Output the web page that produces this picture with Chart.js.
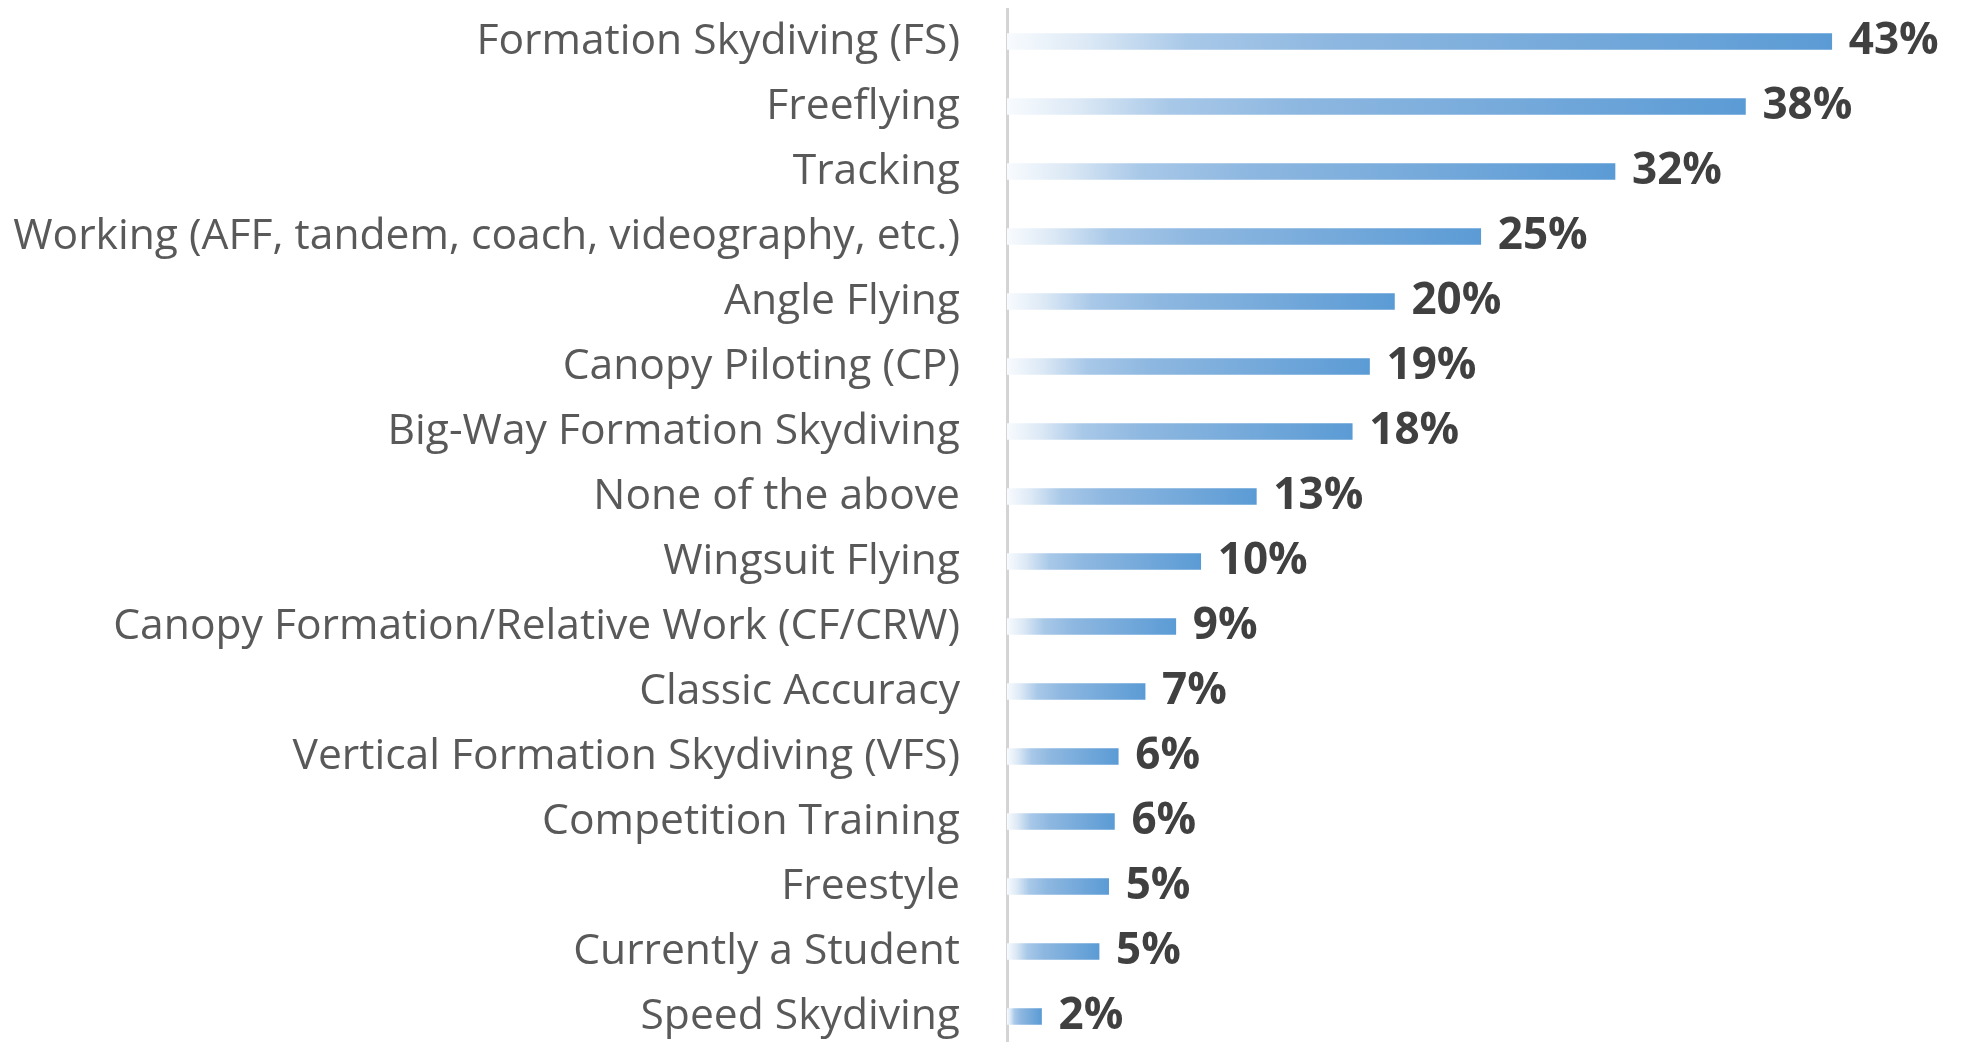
<!DOCTYPE html>
<html>
<head>
<meta charset="utf-8">
<script src="https://cdn.jsdelivr.net/npm/chart.js@4.4.1/dist/chart.umd.min.js"></script>
<style>
	html, body { margin: 0; padding: 0; background: #fff; overflow: hidden; }
	#wrap { position: relative; width: 1966px; height: 1050px; }
</style>
</head>
<body>
<div id="wrap"><canvas id="myChart"></canvas></div>
<script>
const categorias = [
	"Formation Skydiving (FS)",
	"Freeflying",
	"Tracking",
	"Working (AFF, tandem, coach, videography, etc.)",
	"Angle Flying",
	"Canopy Piloting (CP)",
	"Big-Way Formation Skydiving",
	"None of the above",
	"Wingsuit Flying",
	"Canopy Formation/Relative Work (CF/CRW)",
	"Classic Accuracy",
	"Vertical Formation Skydiving (VFS)",
	"Competition Training",
	"Freestyle",
	"Currently a Student",
	"Speed Skydiving"
];
const valores = [43.0, 38.5, 31.7, 24.7, 20.2, 18.9, 18.0, 13.0, 10.1, 8.8, 7.2, 5.8, 5.6, 5.3, 4.8, 1.8];
const rotulos = ["43%", "38%", "32%", "25%", "20%", "19%", "18%", "13%", "10%", "9%", "7%", "6%", "6%", "5%", "5%", "2%"];

// gradiente de cada barra, do claro (esquerda) ao azul (direita)
function corBarra(ctx) {
	const chart = ctx.chart;
	const x = chart.scales.x;
	if (!x || !chart.chartArea || ctx.raw === undefined) return '#5b9bd5';
	const x0 = x.getPixelForValue(0);
	const x1 = x.getPixelForValue(ctx.raw);
	const g = chart.ctx.createLinearGradient(x0, 0, x1, 0);
	g.addColorStop(0, '#f8fbfe');
	g.addColorStop(0.1, '#dbe8f5');
	g.addColorStop(0.22, '#a8c8e8');
	g.addColorStop(0.4, '#8db7e0');
	g.addColorStop(1, '#5b9bd5');
	return g;
}

const rotulosPlugin = {
	id: 'rotulos',
	afterDatasetsDraw(chart) {
		const c = chart.ctx;
		const meta = chart.getDatasetMeta(0);
		c.save();
		c.font = 'bold 44px "Open Sans"';
		c.fillStyle = '#404040';
		c.textAlign = 'left';
		c.textBaseline = 'middle';
		meta.data.forEach(function(bar, i) {
			c.fillText(rotulos[i], bar.x + 17, bar.y);
		});
		c.restore();
	}
};

window.addEventListener('load', function() {
	new Chart("myChart", {
		type: "bar",
		data: {
			labels: categorias,
			datasets: [{
				data: valores,
				backgroundColor: corBarra,
				barThickness: 16,
				borderWidth: 0
			}]
		},
		options: {
			indexAxis: 'y',
			responsive: true,
			maintainAspectRatio: false,
			animation: false,
			layout: { padding: { top: 9, bottom: 1, left: 0, right: 0 } },
			plugins: {
				legend: { display: false },
				tooltip: { enabled: false }
			},
			scales: {
				x: {
					display: false,
					min: 0,
					max: 50
				},
				y: {
					z: 1,
					afterFit: function(scale) {
						scale.width = 1007;
						scale.paddingTop = 0;
						scale.paddingBottom = 0;
					},
					grid: { display: false, drawTicks: false },
					border: { display: true, color: '#d4d4d4', width: 3 },
					ticks: {
						padding: 47,
						color: '#595959',
						font: { family: '"Open Sans"', size: 42.6 }
					}
				}
			}
		},
		plugins: [rotulosPlugin]
	});
});
</script>
</body>
</html>
